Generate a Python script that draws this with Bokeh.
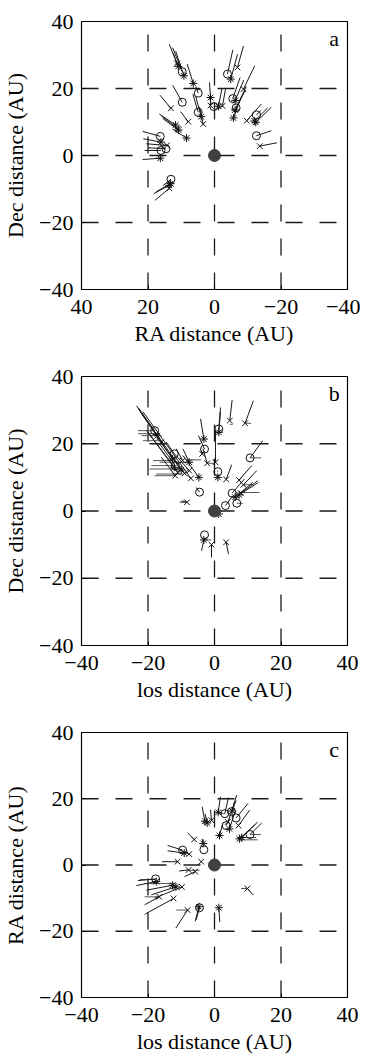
from bokeh.plotting import figure
from bokeh.layouts import column
from bokeh.models import Range1d, FixedTicker, Label, ColumnDataSource
from bokeh.embed import file_html
from bokeh.resources import INLINE

# ---------------- data ----------------
TICKS = [-40, -20, 0, 20, 40]
TICK_LABELS = {-40: "\u221240", -20: "\u221220", 0: "0", 20: "20", 40: "40"}
GRID = [-20, 0, 20]
SUN_X = [0]
SUN_Y = [0]

# panel a : RA (x) vs Dec (y); marker, position, end of the attached vector
A_M = ["*", "o", "*", "x", "*", "o", "o", "x", "x", "o", "*", "x", "*", "x", "*", "*",
       "o", "*", "x", "o", "o", "*", "*", "x", "o", "*", "x", "o", "*", "x", "o", "*",
       "x", "o", "*", "*", "x", "o", "*", "*", "o", "x", "o", "*", "x", "*"]
A_X = [10.9, 9.7, 9.2, 11.3, 6.4, 4.9, 9.7, 13.1, 7.9, 4.9, 4.0, 3.4, 11.7, 11.0, 10.8, 8.4,
       16.3, 16.1, 14.3, 14.6, 16.1, 16.3, 1.2, 1.2, 0.2, -1.2, -2.4, -3.9, -4.9, -6.9, -5.5, -6.2,
       -8.7, -6.5, -6.2, -5.7, -9.7, -12.6, -12.4, -12.0, -12.6, -13.6, 13.1, 13.6, 13.6, 13.2]
A_Y = [26.6, 25.0, 23.8, 27.5, 21.5, 18.6, 15.9, 14.1, 10.1, 12.9, 11.6, 9.4, 9.1, 8.0, 7.6, 5.2,
       5.7, 4.0, 3.0, 2.0, 1.5, -0.8, 17.3, 14.9, 14.6, 14.7, 14.8, 24.3, 22.8, 26.3, 17.0, 16.4,
       19.8, 14.2, 13.6, 11.2, 10.4, 12.1, 9.9, 10.3, 5.9, 2.8, -7.1, -8.9, -9.8, -8.4]
A_X2 = [13.6, 12.6, 11.7, 12.4, 8.2, 5.6, 12.6, 16.4, 10.2, 6.5, 5.7, 4.5, 16.6, 16.0, 15.5, 12.6,
        21.6, 21.4, 20.5, 20.0, 21.0, 21.6, 1.5, 1.3, 0.3, -2.2, -3.3, -5.5, -6.9, -8.7, -7.7, -8.8,
        -12.1, -9.5, -9.3, -8.2, -14.1, -14.0, -17.1, -16.0, -17.1, -18.8, 15.5, 18.3, 17.9, 17.5]
A_Y2 = [33.2, 32.2, 31.2, 30.5, 27.3, 20.5, 21.0, 18.0, 13.1, 18.3, 17.8, 14.5, 12.4, 11.8, 11.0, 7.9,
        7.2, 5.0, 3.5, 2.3, 1.5, -1.2, 21.8, 17.0, 14.6, 19.8, 19.8, 31.5, 30.2, 32.7, 23.3, 22.5,
        26.8, 20.5, 19.5, 17.8, 15.4, 13.5, 14.4, 14.2, 7.4, 3.8, -9.0, -11.4, -13.4, -10.8]

# panel b : los (x) vs Dec (y)
B_M = ["o", "*", "x", "o", "*", "o", "x", "*", "x", "*", "x", "x", "x", "*", "o", "x",
       "*", "o", "x", "x", "o", "*", "x", "x", "o", "o", "*", "x", "x", "x", "o", "*",
       "o", "o", "*", "x", "*", "o", "*", "x", "x", "x", "x", "*"]
B_X = [-18.0, -17.2, -16.0, -12.1, -12.6, -11.8, -9.6, -7.6, -7.6, -12.1, -11.1, -11.8, -7.1, -4.7, -4.5, -8.3,
       -3.2, -3.0, -3.7, -2.2, 1.3, 1.3, 4.6, 9.2, 10.7, 1.0, 1.0, 3.5, 7.4, 8.7, 5.3, 6.2,
       3.3, 6.7, 7.4, 7.9, 1.3, -3.0, -3.2, -0.9, 3.5, 0.3, -9.0, -10.0]
B_Y = [23.9, 22.4, 20.4, 17.0, 15.5, 13.5, 15.0, 14.5, 12.0, 13.0, 11.5, 10.5, 9.7, 10.0, 5.6, 2.6,
       21.4, 18.4, 17.0, 14.2, 24.4, 23.4, 26.9, 26.1, 15.8, 11.7, 10.0, 9.4, 9.2, 7.8, 5.3, 4.1,
       1.6, 2.3, 4.8, 5.3, -0.9, -7.1, -8.6, -10.0, -9.3, 14.5, 11.2, 12.2]
B_X2 = [-23.5, -22.8, -22.0, -14.5, -18.0, -16.5, -11.5, -9.5, -12.0, -20.0, -20.5, -16.0, -21.5, -9.5, -5.5, -10.0,
        -4.2, -4.8, -4.0, -3.5, 1.8, 1.8, 5.3, 11.7, 14.5, 1.0, 1.0, 5.2, 11.2, 12.7, 9.0, 11.5,
        5.5, 6.7, 13.2, 13.0, 1.3, -3.0, -3.9, -0.9, 4.2, 0.3, -22.8, -16.5]
B_Y2 = [31.3, 30.6, 29.0, 20.5, 23.0, 20.0, 18.5, 18.5, 17.0, 23.5, 24.0, 16.0, 29.5, 16.5, 7.0, 3.0,
        27.4, 22.4, 18.0, 18.5, 30.8, 29.5, 33.0, 32.8, 20.9, 12.0, 10.5, 13.8, 13.5, 12.0, 9.5, 8.5,
        4.5, 2.3, 8.5, 9.0, -0.9, -7.1, -11.8, -13.8, -12.8, 24.0, 30.2, 21.0]
# horizontal (los) components drawn in grey
B_HY = [23.9, 23.0, 22.4, 20.9, 15.0, 14.5, 13.5, 12.5, 10.5, 11.0, 15.2, 14.2, 2.6, 15.8, 2.3, 5.5, 7.8, 26.1, 25.8, -8.6]
B_HX0 = [-18.0, -17.2, -17.2, -15.6, -12.4, -8.1, -11.8, -10.0, -11.8, -9.5, -4.0, -2.2, -8.3, 10.7, 6.7, 8.0, 8.7, 9.2, 4.6, -3.2]
B_HX1 = [-23.0, -23.0, -22.0, -21.5, -18.5, -16.5, -19.0, -19.5, -18.0, -17.5, -8.5, 0.0, -10.5, 14.0, 8.5, 13.5, 11.5, 11.0, 5.5, -1.0]

# panel c : los (x) vs RA (y)
C_M = ["*", "*", "x", "*", "o", "o", "*", "o", "o", "*", "x", "o", "*", "*", "x", "*",
       "o", "o", "*", "x", "x", "x", "x", "x", "o", "*", "*", "*", "x", "x", "x", "x",
       "*", "o", "*", "x", "x", "*"]
C_X = [-2.9, -2.2, -0.9, 1.1, 3.1, 5.1, 5.3, 6.5, 3.5, 4.5, 7.2, 10.7, 7.5, 1.5, -6.1, -3.4,
       -3.2, -9.6, -9.1, -7.6, -4.0, -11.1, -7.8, -5.8, -17.7, -17.5, -12.6, -11.6, -9.8, -16.6, -12.3, -8.1,
       -4.7, -4.5, 1.3, 9.9, 4.0, 8.2]
C_Y = [13.2, 12.7, 13.5, 15.9, 15.5, 16.1, 16.3, 14.2, 11.9, 10.9, 11.9, 9.2, 7.9, 8.9, 7.7, 6.5,
       4.6, 4.5, 3.6, 3.3, 1.0, 1.0, -1.5, -2.0, -4.2, -5.0, -6.1, -6.6, -6.6, -9.6, -10.1, -13.6,
       -12.6, -12.9, -12.9, -7.1, 13.0, 8.3]
C_X2 = [-3.7, -2.8, -1.2, 1.8, 4.2, 6.7, 6.0, 10.1, 4.5, 6.2, 10.6, 14.2, 12.2, 2.5, -8.1, -3.7,
        -3.2, -14.1, -14.1, -10.5, -4.0, -15.8, -10.6, -9.0, -23.0, -23.5, -20.5, -19.0, -18.0, -21.0, -21.0, -11.6,
        -5.8, -5.5, 1.6, 11.7, 6.5, 13.0]
C_Y2 = [17.6, 15.5, 16.7, 20.6, 20.4, 21.1, 19.0, 18.6, 14.0, 16.1, 16.6, 12.7, 12.2, 12.5, 9.7, 7.9,
        4.6, 5.9, 4.3, 4.5, 1.0, 1.0, -1.8, -3.5, -4.7, -6.2, -7.6, -9.0, -10.0, -12.0, -14.9, -19.0,
        -17.0, -16.5, -17.2, -9.1, 19.5, 13.0]
C_HY = [9.2, 7.6, 8.3, -7.1, -4.4, -5.6, -1.6, -13.6, -9.6, 15.5]
C_HX0 = [10.7, 7.5, 7.8, 9.9, -17.7, -12.0, -7.8, -8.1, -16.6, 3.1]
C_HX1 = [14.0, 13.0, 12.5, 8.0, -22.5, -21.0, -4.5, -11.5, -21.0, 1.0]

MARKER_NAMES = {"o": "circle", "x": "x", "*": "asterisk"}
FONT = "Liberation Serif"


def make_panel(xr, xlabel, ylabel, letter, letter_x, height, top, bottom,
               m, x, y, x2, y2, hy=None, hx0=None, hx1=None):
    p = figure(width=360, height=height, x_range=xr, y_range=Range1d(-40, 40),
               output_backend="svg", toolbar_location=None,
               min_border_left=78, min_border_right=13, min_border_top=top,
               min_border_bottom=bottom)
    p.grid.visible = False
    p.background_fill_color = "white"
    p.border_fill_color = "white"
    p.outline_line_color = "black"
    p.outline_line_width = 1.2
    p.outline_line_alpha = 1
    for ax in (p.xaxis[0], p.yaxis[0]):
        ax.ticker = FixedTicker(ticks=TICKS)
        ax.major_label_overrides = TICK_LABELS
        ax.major_label_text_font = FONT
        ax.major_label_text_font_size = "22px"
        ax.major_label_text_color = "black"
        ax.axis_label_text_font = FONT
        ax.axis_label_text_font_size = "22px"
        ax.axis_label_text_font_style = "normal"
        ax.axis_label_text_color = "black"
        ax.axis_line_color = "black"
        ax.major_tick_in = 4
        ax.major_tick_out = 0
        ax.major_tick_line_color = "black"
        ax.minor_tick_line_color = None
    p.xaxis.axis_label = xlabel
    p.yaxis.axis_label = ylabel
    p.xaxis.major_label_standoff = 10
    p.xaxis.axis_label_standoff = 4
    p.yaxis.major_label_standoff = 8
    p.yaxis.axis_label_standoff = 8

    # dashed grid (drawn from left edge and from bottom edge)
    xs, xe = xr.start, xr.end
    n = len(GRID)
    p.segment(x0=[xs] * n, y0=GRID, x1=[xe] * n, y1=GRID,
              line_color="#1a1a1a", line_width=1.3, line_dash="17 17")
    p.segment(x0=GRID, y0=[-40] * n, x1=GRID, y1=[40] * n,
              line_color="#1a1a1a", line_width=1.3, line_dash="17 17")

    if hy is not None:
        p.segment(x0=hx0, y0=hy, x1=hx1, y1=hy, line_color="#555555", line_width=1.0)
    p.segment(x0=x, y0=y, x1=x2, y1=y2, line_color="#1a1a1a", line_width=1.0)

    src = ColumnDataSource(dict(x=x, y=y, m=[MARKER_NAMES[k] for k in m]))
    p.scatter("x", "y", marker="m", source=src, size=8, fill_color=None,
              line_color="#111111", line_width=1.0)
    p.scatter(SUN_X, SUN_Y, size=12, fill_color="#404040", line_color="#404040")

    p.add_layout(Label(x=letter_x, y=35, text=letter, text_font=FONT,
                       text_font_size="22px", text_align="center",
                       text_baseline="middle", text_color="black"))
    return p


pa = make_panel(Range1d(40, -40), "RA distance (AU)", "Dec distance (AU)", "a", -36, 363, 21, 74,
                A_M, A_X, A_Y, A_X2, A_Y2)
pb = make_panel(Range1d(-40, 40), "los distance (AU)", "Dec distance (AU)", "b", 36, 356, 13, 74,
                B_M, B_X, B_Y, B_X2, B_Y2, B_HY, B_HX0, B_HX1)
pc = make_panel(Range1d(-40, 40), "los distance (AU)", "RA distance (AU)", "c", 36, 337, 13, 55,
                C_M, C_X, C_Y, C_X2, C_Y2, C_HY, C_HX0, C_HX1)

layout = column(pa, pb, pc, spacing=0)
open("out.html", "w").write(file_html(layout, INLINE))
